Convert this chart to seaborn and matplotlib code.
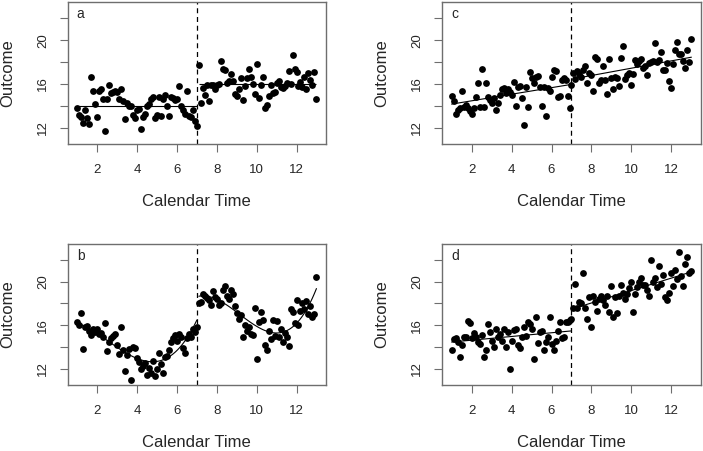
import numpy as np
import pandas as pd
import seaborn as sns
import matplotlib
matplotlib.use("Agg")
import matplotlib.pyplot as plt

# calendar time: 1.0 .. 13.0 in steps of 0.1 (121 observations per panel)
times = np.round(np.arange(1.0, 13.05, 0.1), 1)
cut = 7.0

outcome_a = [
    13.8, 13.2, 13.0, 12.4, 13.6, 12.9, 12.3, 16.6, 15.4, 14.2,
    13.0, 15.4, 15.5, 14.6, 11.7, 14.6, 15.9, 15.2, 15.3, 15.4,
    15.3, 14.6, 15.5, 14.4, 12.8, 14.3, 14.0, 14.0, 13.2, 12.9,
    13.6, 13.7, 11.9, 13.0, 13.3, 14.0, 14.2, 14.6, 14.8, 12.9,
    13.2, 14.8, 13.1, 14.6, 15.0, 14.0, 13.1, 14.8, 14.7, 14.5,
    14.6, 15.8, 14.0, 13.6, 13.3, 15.4, 13.1, 13.0, 13.6, 12.6, 12.2,
    17.7, 14.3, 15.6, 15.0, 15.9, 14.4, 15.9, 15.9, 15.5, 15.9,
    16.0, 18.1, 17.4, 17.3, 16.1, 16.3, 16.9, 16.3, 15.1, 14.9,
    15.5, 16.5, 14.5, 15.8, 16.5, 17.4, 16.6, 16.0, 15.1, 17.8,
    14.7, 15.9, 16.6, 13.8, 14.1, 14.9, 15.9, 15.2, 15.3, 16.1,
    16.3, 15.7, 15.6, 15.8, 16.1, 17.2, 16.0, 18.6, 17.4, 17.1,
    15.8, 16.2, 15.7, 16.6, 15.5, 17.0, 16.4, 15.9, 17.1, 14.6,
]

outcome_b = [
    16.3, 16.0, 17.1, 13.8, 15.8, 15.9, 15.5, 15.1, 15.7, 15.4,
    15.7, 15.2, 15.3, 14.9, 16.2, 13.6, 14.5, 14.8, 15.0, 15.2,
    14.2, 13.4, 15.8, 13.7, 11.8, 13.3, 13.85, 11.0, 14.0, 13.9,
    13.0, 12.6, 12.0, 12.3, 12.5, 11.45, 12.1, 11.6, 12.7, 11.3,
    12.0, 13.5, 12.45, 11.6, 13.1, 13.2, 13.7, 14.5, 14.8, 15.1,
    14.6, 15.2, 14.9, 13.9, 13.5, 14.8, 15.2, 14.9, 15.7, 15.4, 15.8,
    18.0, 18.1, 18.9, 18.7, 18.5, 18.3, 17.9, 19.1, 18.6, 18.4,
    17.9, 18.0, 19.2, 19.6, 18.7, 18.4, 19.2, 18.9, 17.8, 17.1,
    16.6, 16.9, 14.9, 16.0, 15.5, 15.8, 15.2, 15.1, 17.6, 12.9,
    16.3, 17.2, 16.5, 14.2, 13.7, 15.5, 14.7, 16.5, 15.0, 16.4,
    14.9, 15.7, 14.5, 15.3, 14.9, 14.1, 17.5, 17.2, 16.2, 18.3,
    16.0, 17.3, 18.0, 17.5, 18.2, 17.0, 17.8, 16.8, 17.0, 20.4,
]

outcome_c = [
    14.9, 14.4, 13.3, 13.6, 13.8, 15.4, 13.9, 14.1, 13.8, 13.5,
    13.3, 13.8, 14.8, 16.1, 13.9, 17.4, 13.9, 16.1, 14.8, 14.55,
    14.25, 14.7, 13.6, 14.3, 15.0, 15.5, 15.6, 15.2, 15.5, 15.3,
    15.0, 16.2, 14.0, 15.7, 15.8, 14.7, 12.25, 15.7, 13.9, 17.1,
    16.5, 16.1, 16.6, 16.7, 15.7, 14.0, 15.7, 13.1, 15.6, 15.4,
    16.6, 17.3, 17.2, 14.8, 14.9, 16.4, 16.5, 16.4, 14.9, 13.8, 15.9,
    17.0, 16.45, 17.2, 16.9, 16.6, 17.3, 17.6, 16.1, 17.0, 16.85,
    15.4, 18.5, 18.3, 16.1, 16.4, 17.6, 16.4, 15.1, 18.3, 16.5,
    15.5, 16.6, 16.5, 15.8, 18.4, 19.5, 16.45, 16.8, 17.0, 15.9,
    16.9, 18.2, 17.8, 18.1, 18.3, 17.5, 17.6, 16.85, 17.9, 18.0,
    18.1, 19.7, 18.0, 18.2, 18.9, 17.3, 17.3, 17.9, 16.3, 15.6,
    17.8, 19.1, 19.8, 18.7, 18.7, 18.1, 17.5, 19.1, 18.0, 20.1,
]

outcome_d = [
    13.7, 14.7, 14.8, 14.5, 13.1, 14.2, 14.9, 14.9, 16.4, 16.2,
    14.8, 15.3, 14.9, 14.5, 14.3, 15.1, 13.1, 13.7, 16.1, 15.4,
    14.6, 14.0, 15.7, 14.9, 15.2, 14.6, 15.7, 14.0, 15.4, 12.0,
    14.6, 15.6, 15.7, 14.2, 13.9, 14.9, 15.8, 15.0, 16.3, 16.1,
    15.7, 12.9, 16.8, 14.4, 15.4, 15.5, 13.7, 14.5, 14.9, 16.8,
    14.3, 13.7, 14.6, 15.5, 16.3, 14.8, 14.9, 16.3, 16.3, 16.5, 16.6,
    17.6, 19.8, 17.6, 18.1, 18.0, 20.8, 17.6, 16.6, 18.6, 15.8,
    18.7, 18.1, 17.3, 18.4, 18.7, 18.3, 17.9, 18.7, 17.2, 19.6,
    16.8, 18.6, 17.1, 18.7, 19.7, 19.0, 18.4, 18.9, 19.4, 20.0,
    17.2, 18.9, 19.5, 20.0, 20.3, 19.7, 19.7, 19.2, 18.7, 22.0,
    20.0, 20.3, 19.5, 21.4, 19.8, 20.6, 18.6, 18.3, 19.0, 20.8,
    19.6, 21.1, 20.2, 22.7, 20.5, 19.6, 21.6, 22.3, 20.8, 21.0,
]

# trend fitted on each side of the interruption (0 = level only)
fit_order = {"a": 0, "b": 3, "c": 1, "d": 1}
panels = {"a": outcome_a, "b": outcome_b, "c": outcome_c, "d": outcome_d}

sns.set_style("white")
plt.rcParams["font.family"] = ["Liberation Sans", "DejaVu Sans"]

W, H = 703, 451
fig = plt.figure(figsize=(W / 100, H / 100), dpi=100)

# axes boxes in pixels: left, top, right, bottom
boxes = {
    "a": (67.7, 2, 326, 144),
    "c": (442, 2, 701, 144),
    "b": (67.7, 243.7, 326, 385),
    "d": (442, 243.7, 701, 385),
}

frame_col = "#6e6e6e"

for key, vals in panels.items():
    l, t, r, b = boxes[key]
    ax = fig.add_axes([l / W, 1 - b / H, (r - l) / W, (b - t) / H])
    df = pd.DataFrame({"time": times, "outcome": vals})
    df["phase"] = np.where(df["time"] <= cut, "pre", "post")

    sns.scatterplot(data=df, x="time", y="outcome", color="black", s=24,
                    linewidth=0, ax=ax, zorder=3)

    for phase in ["pre", "post"]:
        seg = df[df["phase"] == phase]
        if fit_order[key] == 0:
            ax.hlines(seg["outcome"].mean(), seg["time"].min(), seg["time"].max(),
                      color="black", lw=0.8, zorder=2)
        else:
            sns.regplot(data=seg, x="time", y="outcome", order=fit_order[key],
                        ci=None, scatter=False, ax=ax,
                        line_kws={"color": "black", "lw": 0.8, "zorder": 2})

    ax.axvline(cut, color="black", lw=0.9, ls=(0, (4, 3)), zorder=1)

    ax.set_xlim(0.52, 13.48)
    ax.set_ylim(10.52, 23.48)
    ax.set_xticks([2, 4, 6, 8, 10, 12])
    ax.set_yticks([12, 14, 16, 18, 20, 22])
    ax.set_yticklabels(["12", "", "16", "", "20", ""], rotation=90, va="center")
    ax.tick_params(axis="both", length=5.5, width=0.8, color=frame_col,
                   labelsize=9.5, direction="out", bottom=True, left=True)
    ax.tick_params(axis="x", pad=9)
    ax.tick_params(axis="y", pad=8)
    for sp in ax.spines.values():
        sp.set_color(frame_col)
        sp.set_linewidth(1.0)

    ax.set_xlabel("Calendar Time", fontsize=12, va="center")
    ax.set_ylabel("Outcome", fontsize=12, va="center")
    ax.xaxis.set_label_coords(0.5, -0.408)
    ax.yaxis.set_label_coords(-0.231, 0.5)
    ax.text(0.035, 0.965, key, transform=ax.transAxes, ha="left", va="top",
            fontsize=10)

fig.savefig("out.png", dpi=100)
